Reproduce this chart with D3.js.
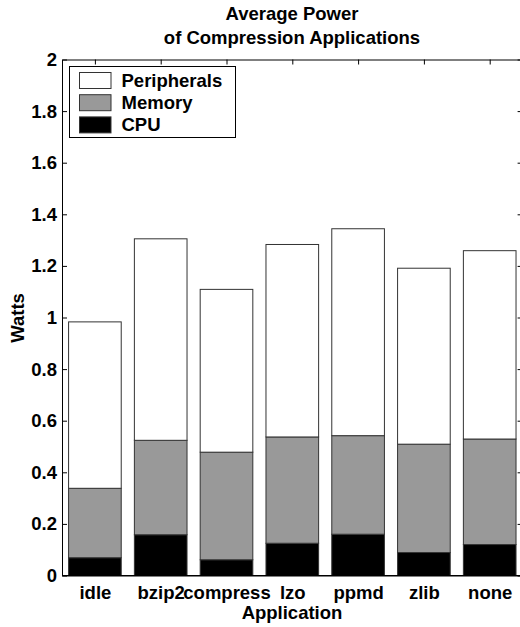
<!DOCTYPE html>
<html>
<head>
<meta charset="utf-8">
<script src="https://cdn.jsdelivr.net/npm/d3@7"></script>
<style>
  body { margin: 0; background: #fff; }
  text { font-family: "Liberation Sans", Arial, Helvetica, sans-serif; font-weight: bold; }
</style>
</head>
<body>
<svg class="chart"></svg>
<script>
// Datos
var apps = ["idle", "bzip2", "compress", "lzo", "ppmd", "zlib", "none"];
var cpu = [0.069, 0.158, 0.061, 0.125, 0.160, 0.089, 0.120];
var memory = [0.269, 0.366, 0.417, 0.412, 0.382, 0.420, 0.409];
var peripherals = [0.645, 0.781, 0.631, 0.746, 0.802, 0.682, 0.730];
var yTicks = [0, 0.2, 0.4, 0.6, 0.8, 1, 1.2, 1.4, 1.6, 1.8, 2];

var series = ["CPU", "Memory", "Peripherals"];
var colors = { CPU: "#000000", Memory: "#999999", Peripherals: "#ffffff" };

var rows = apps.map(function(a, i) {
  return { app: a, idx: i + 1, CPU: cpu[i], Memory: memory[i], Peripherals: peripherals[i] };
});

var W = 520, H = 627;
var pLeft = 62, pRight = 522.6, pTop = 59.5, pBottom = 575.5;
var fs = 18.5;

var svg = d3.select(".chart").attr("width", W).attr("height", H);

var x = d3.scaleLinear().domain([0.5, 7.5]).range([pLeft, pRight]);
var y = d3.scaleLinear().domain([0, 2]).range([pBottom, pTop]);
var barW = x(1.4) - x(0.6);

var stacked = d3.stack().keys(series)(rows);

// eje inferior (marcas ocultas tras las barras)
svg.append("g")
    .attr("transform", "translate(0," + pBottom + ")")
    .call(d3.axisBottom(x).tickValues(rows.map(function(d) { return d.idx; }))
      .tickFormat(function(d) { return apps[d - 1]; })
      .tickSize(-5).tickSizeOuter(0).tickPadding(10));

// barras
svg.append("g").selectAll("g")
    .data(stacked)
  .enter().append("g")
    .attr("fill", function(s) { return colors[s.key]; })
  .selectAll("rect")
    .data(function(s) { return s; })
  .enter().append("rect")
    .attr("x", function(d) { return x(d.data.idx) - barW / 2; })
    .attr("width", barW)
    .attr("y", function(d) { return y(d[1]); })
    .attr("height", function(d) { return y(d[0]) - y(d[1]); })
    .attr("stroke", "#333")
    .attr("stroke-width", 1);

// ejes restantes
svg.append("g")
    .attr("transform", "translate(" + pLeft + ",0)")
    .call(d3.axisLeft(y).tickValues(yTicks).tickFormat(d3.format("~g"))
      .tickSize(-5).tickSizeOuter(0).tickPadding(5));
svg.append("g")
    .attr("transform", "translate(" + pRight + ",0)")
    .call(d3.axisRight(y).tickValues(yTicks).tickFormat("")
      .tickSize(-5).tickSizeOuter(0));
svg.append("g")
    .attr("transform", "translate(0," + pTop + ")")
    .call(d3.axisTop(x).tickValues(rows.map(function(d) { return d.idx; })).tickFormat("")
      .tickSize(-5).tickSizeOuter(0));

// línea base encima de las barras
svg.append("line")
    .attr("x1", pLeft).attr("x2", pRight).attr("y1", pBottom).attr("y2", pBottom)
    .attr("stroke", "#000");

svg.selectAll(".domain").attr("stroke", "#000");
svg.selectAll(".tick line").attr("stroke", "#000");
svg.selectAll(".tick text").attr("font-size", fs).attr("fill", "#000")
    .attr("font-family", null);

// títulos
svg.append("text").attr("x", 292).attr("y", 20).attr("text-anchor", "middle")
    .attr("font-size", fs).text("Average Power");
svg.append("text").attr("x", 292).attr("y", 44).attr("text-anchor", "middle")
    .attr("font-size", fs).text("of Compression Applications");
svg.append("text").attr("x", 292).attr("y", 619).attr("text-anchor", "middle")
    .attr("font-size", fs).text("Application");
svg.append("text").attr("transform", "translate(24,318) rotate(-90)")
    .attr("text-anchor", "middle").attr("font-size", fs).text("Watts");

// leyenda
var lg = svg.append("g").attr("transform", "translate(69.5,66.5)");
lg.append("rect").attr("width", 166).attr("height", 71)
    .attr("fill", "#fff").attr("stroke", "#000");
var legendItems = ["Peripherals", "Memory", "CPU"];
legendItems.forEach(function(k, i) {
  lg.append("rect").attr("x", 10).attr("y", 6 + i * 22.2)
      .attr("width", 31.5).attr("height", 16)
      .attr("fill", colors[k]).attr("stroke", "#333");
  lg.append("text").attr("x", 52).attr("y", 20 + i * 22.2)
      .attr("font-size", fs).text(k);
});
</script>
</body>
</html>
